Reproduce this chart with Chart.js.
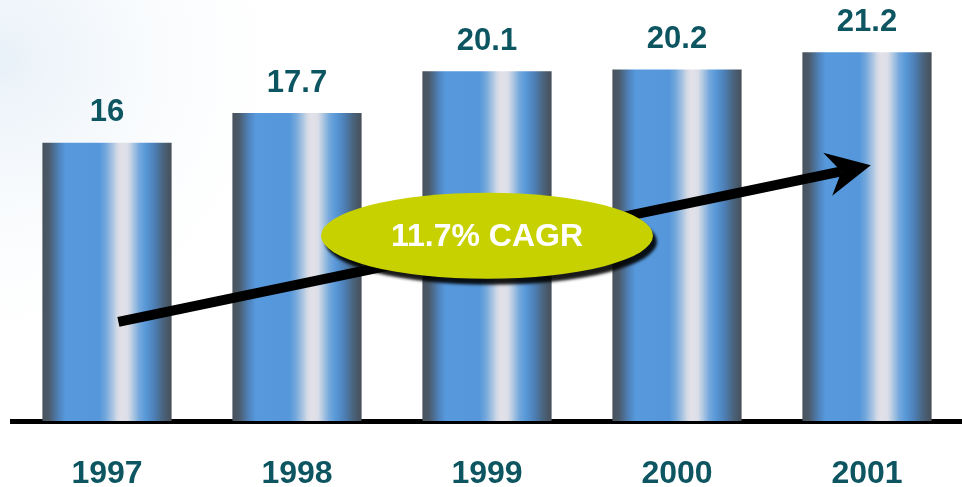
<!DOCTYPE html>
<html>
<head>
<meta charset="utf-8">
<title>Sales 1997-2001</title>
<script src="https://cdn.jsdelivr.net/npm/chart.js@4/dist/chart.umd.min.js"></script>
<style>
  html, body { margin: 0; padding: 0; background: #fff; }
  #wrap { width: 962px; height: 487px; position: relative; }
</style>
</head>
<body>
<div id="wrap"><canvas id="salesChart"></canvas></div>
<script>
// Data
const years = ['1997', '1998', '1999', '2000', '2001'];
const sales = [16, 17.7, 20.1, 20.2, 21.2];
const yMax = 24.2;
const cagrText = '11.7% CAGR';

const FONT = '"Liberation Sans", Arial, sans-serif';
const TEAL = '#0d5560';
const BAR_PCT = 0.68;

// Cylinder look: dark edges, blue body, pale highlight right of center
const cylinderStops = [
    [0.00, '#48525c'], [0.05, '#4a5a6a'], [0.13, '#4f84be'], [0.18, '#5699dc'],
    [0.44, '#5597da'], [0.49, '#74a8dc'], [0.54, '#a6c2e0'], [0.58, '#d4dae6'],
    [0.61, '#e3e1e8'], [0.66, '#dcdee8'], [0.70, '#b0c8e2'], [0.75, '#74a8dc'],
    [0.80, '#5898d8'], [0.87, '#4c7eb4'], [0.93, '#4a6580'], [1.00, '#464f58']
];

function barFill(context) {
    const chart = context.chart;
    const xs = chart.scales.x;
    if (!xs || !chart.chartArea) return '#5597da';
    const cx = xs.getPixelForValue(context.dataIndex);
    const w = (xs.width / years.length) * BAR_PCT;
    const g = chart.ctx.createLinearGradient(cx - w / 2, 0, cx + w / 2, 0);
    cylinderStops.forEach(([p, c]) => g.addColorStop(p, c));
    return g;
}

// Faint bluish wash in the top-left corner
const backdrop = {
    id: 'backdrop',
    beforeDraw(chart) {
        const { ctx, width, height } = chart;
        ctx.save();
        ctx.fillStyle = '#ffffff';
        ctx.fillRect(0, 0, width, height);
        const g = ctx.createRadialGradient(0, 60, 10, 0, 60, 320);
        g.addColorStop(0, 'rgba(228,238,247,0.8)');
        g.addColorStop(1, 'rgba(255,255,255,0)');
        ctx.fillStyle = g;
        ctx.fillRect(0, 0, 340, 400);
        ctx.restore();
    }
};

// Numbers above each bar
const valueLabels = {
    id: 'valueLabels',
    afterDatasetsDraw(chart) {
        const { ctx } = chart;
        const meta = chart.getDatasetMeta(0);
        ctx.save();
        ctx.font = 'bold 31px ' + FONT;
        ctx.fillStyle = TEAL;
        ctx.textAlign = 'center';
        ctx.textBaseline = 'middle';
        meta.data.forEach((bar, i) => {
            ctx.fillText(String(sales[i]), bar.x, bar.y - 30);
        });
        ctx.restore();
    }
};

// Growth arrow with the CAGR badge on top
const trend = {
    id: 'trend',
    afterDatasetsDraw(chart, args, opts) {
        const { ctx } = chart;
        const xs = chart.scales.x, ys = chart.scales.y;
        const px = (p) => [xs.getPixelForValue(p[0]), ys.getPixelForValue(p[1])];
        const [x0, y0] = px(opts.from);
        const [x1, y1] = px(opts.to);
        const len = Math.hypot(x1 - x0, y1 - y0);
        const ux = (x1 - x0) / len, uy = (y1 - y0) / len;
        const nx = -uy, ny = ux;

        ctx.save();
        // shaft
        ctx.strokeStyle = '#000';
        ctx.lineWidth = 10;
        ctx.lineCap = 'butt';
        ctx.beginPath();
        ctx.moveTo(x0, y0);
        ctx.lineTo(x1 - ux * 30, y1 - uy * 30);
        ctx.stroke();
        // barbed head
        const hl = 44, hw = 22, notch = 30;
        ctx.fillStyle = '#000';
        ctx.beginPath();
        ctx.moveTo(x1, y1);
        ctx.lineTo(x1 - ux * hl + nx * hw, y1 - uy * hl + ny * hw);
        ctx.lineTo(x1 - ux * notch, y1 - uy * notch);
        ctx.lineTo(x1 - ux * hl - nx * hw, y1 - uy * hl - ny * hw);
        ctx.closePath();
        ctx.fill();

        // badge
        const [bx, by] = px(opts.badge);
        ctx.save();
        ctx.shadowColor = 'rgba(0,0,0,0.9)';
        ctx.shadowOffsetX = 4;
        ctx.shadowOffsetY = 6;
        ctx.shadowBlur = 3;
        ctx.fillStyle = '#c8d100';
        ctx.beginPath();
        ctx.ellipse(bx, by, 166, 43, 0, 0, Math.PI * 2);
        ctx.fill();
        ctx.restore();

        ctx.font = 'bold 32px ' + FONT;
        ctx.fillStyle = '#ffffff';
        ctx.textAlign = 'center';
        ctx.textBaseline = 'middle';
        ctx.fillText(opts.text, bx, by + 1);
        ctx.restore();
    }
};

new Chart(document.getElementById('salesChart'), {
    type: 'bar',
    data: {
        labels: years,
        datasets: [{
            data: sales,
            backgroundColor: barFill,
            borderWidth: 0,
            barPercentage: BAR_PCT,
            categoryPercentage: 1
        }]
    },
    options: {
        responsive: true,
        maintainAspectRatio: false,
        animation: false,
        layout: { padding: { left: 12, right: 0, top: 0, bottom: 0 } },
        plugins: {
            legend: { display: false },
            tooltip: { enabled: false },
            trend: {
                from: [0.06, 5.7],
                to: [4.02, 14.7],
                badge: [2, 10.65],
                text: cagrText
            }
        },
        scales: {
            x: {
                grid: { display: false, drawTicks: false },
                border: { display: true, color: '#000', width: 5 },
                ticks: {
                    color: TEAL,
                    padding: 37,
                    font: { family: FONT, size: 32, weight: 'bold', lineHeight: 1 }
                },
                // keep the year row at a fixed height below the baseline
                afterFit(scale) { scale.height = 66; }
            },
            y: {
                display: false,
                min: 0,
                max: yMax
            }
        }
    },
    plugins: [backdrop, valueLabels, trend]
});
</script>
</body>
</html>
